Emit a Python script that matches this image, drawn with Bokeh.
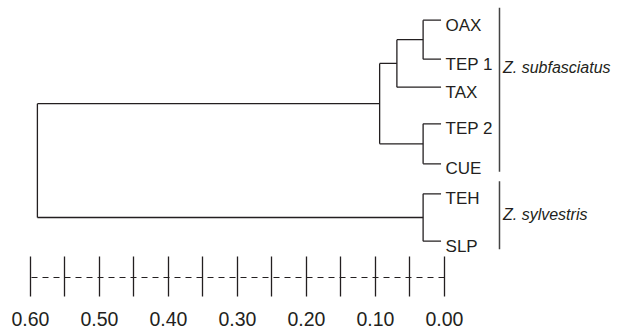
from bokeh.plotting import figure
from bokeh.models import Range1d, LinearAxis, FixedTicker, PrintfTickFormatter
from bokeh.core.properties import value
from bokeh.embed import file_html
from bokeh.resources import INLINE

# ---------------- data ----------------
leaves = ["OAX", "TEP 1", "TAX", "TEP 2", "CUE", "TEH", "SLP"]
# vertical row of each leaf (plot units, top = small)
leaf_row = [19.7, 58.7, 86.7, 123.3, 163.3, 193.3, 240.7]
# linkage: node ids 0-6 are leaves, new nodes get ids 7, 8, ...
link_a = [0, 7, 3, 8, 5, 10]
link_b = [1, 2, 4, 9, 6, 11]
link_height = [0.031, 0.069, 0.031, 0.094, 0.031, 0.590]

groups = ["Z. subfasciatus", "Z. sylvestris"]
group_first = [0, 5]
group_last = [4, 6]
group_label_row = [66.5, 214.0]

scale_major = [0.0, 0.1, 0.2, 0.3, 0.4, 0.5, 0.6]
scale_minor = [0.05, 0.15, 0.25, 0.35, 0.45, 0.55]

# ---------------- style ----------------
TIP = 0.005
BAR_X = -0.0797
INK = "#231f20"
FONT = value("Liberation Sans")

# ---------------- build tree segments ----------------
node_x = [TIP] * len(leaves)
node_y = list(leaf_row)
x0, y0, x1, y1 = [], [], [], []
for a, b, h in zip(link_a, link_b, link_height):
    ya, yb = node_y[a], node_y[b]
    # vertical connector
    x0.append(h); y0.append(ya); x1.append(h); y1.append(yb)
    # horizontal branches to children
    x0.append(h); y0.append(ya); x1.append(node_x[a]); y1.append(ya)
    x0.append(h); y0.append(yb); x1.append(node_x[b]); y1.append(yb)
    node_x.append(h)
    node_y.append((ya + yb) / 2.0)

p = figure(frame_width=611, frame_height=277,
           x_range=Range1d(0.643478, -0.242029), y_range=Range1d(277, 0),
           x_axis_location=None, y_axis_location=None,
           output_backend="svg", toolbar_location=None,
           min_border=0, min_border_left=0, min_border_right=0,
           min_border_top=0, min_border_bottom=0,
           outline_line_color=None, background_fill_color="white",
           border_fill_color="white")
p.grid.visible = False

p.segment(x0=x0, y0=y0, x1=x1, y1=y1, line_color=INK, line_width=1.3)

# leaf labels
p.text(x=[TIP] * len(leaves), y=leaf_row, text=leaves,
       x_offset=4.5, y_offset=4.8,
       text_font=FONT, text_font_size="17px", text_color=INK,
       text_align="left", text_baseline="alphabetic")

# group bars and labels
gy0 = [leaf_row[i] - 12.5 for i in group_first]
gy1 = [leaf_row[i] + 8.0 for i in group_last]
p.segment(x0=[BAR_X] * len(groups), y0=gy0, x1=[BAR_X] * len(groups), y1=gy1,
          line_color="#444444", line_width=1.5)
p.text(x=[BAR_X] * len(groups), y=group_label_row, text=groups,
       x_offset=3.5, text_font=FONT, text_font_size="16px",
       text_font_style="italic", text_color=INK,
       text_align="left", text_baseline="alphabetic")

# scale bar as an axis
axis = LinearAxis()
axis.ticker = FixedTicker(ticks=scale_major, minor_ticks=scale_minor)
axis.bounds = (0, 0.6)
axis.formatter = PrintfTickFormatter(format="%.2f")
axis.major_tick_in = 21
axis.major_tick_out = 19
axis.minor_tick_in = 21
axis.minor_tick_out = 19
axis.major_tick_line_color = INK
axis.minor_tick_line_color = INK
axis.major_tick_line_width = 1.3
axis.minor_tick_line_width = 1.3
axis.axis_line_color = INK
axis.axis_line_width = 1
axis.axis_line_dash = "6 5"
axis.major_label_text_font = "Liberation Sans"
axis.major_label_text_font_size = "19.5px"
axis.major_label_text_color = INK
axis.major_label_standoff = 15
p.add_layout(axis, "below")

open("out.html", "w").write(file_html(p, INLINE))
